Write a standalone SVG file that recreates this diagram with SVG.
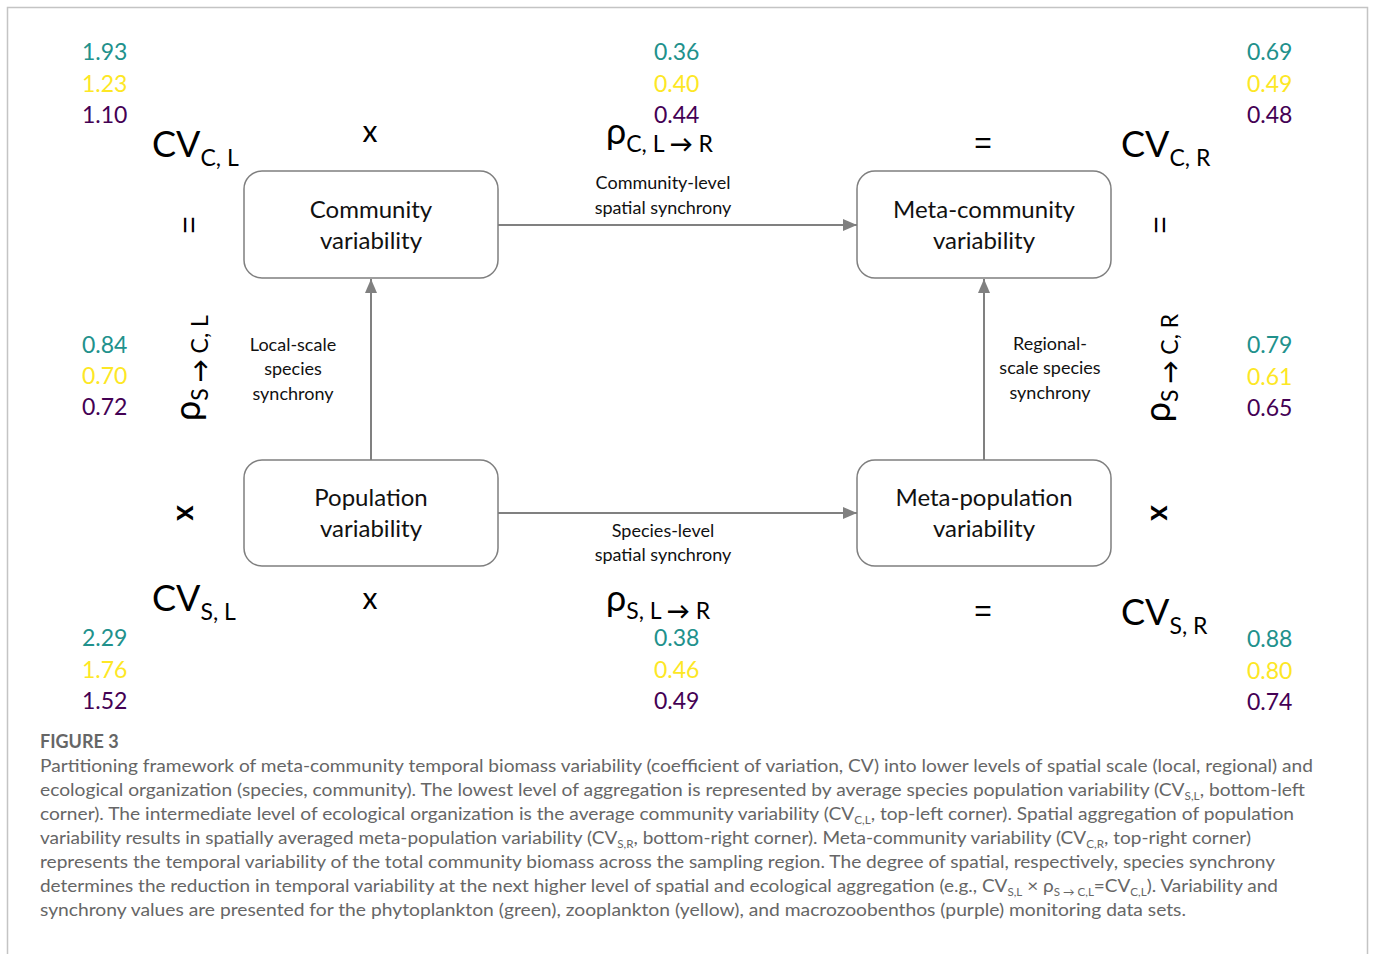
<svg xmlns="http://www.w3.org/2000/svg" width="1373" height="954" viewBox="0 0 1373 954">
<defs>
<marker id="ah" viewBox="0 0 14 12" refX="14" refY="6" markerWidth="14" markerHeight="12" markerUnits="userSpaceOnUse" orient="auto">
<path d="M0,0 L14,6 L0,12 Z" fill="#808080"/>
</marker>
<style>
.box{fill:#fff;stroke:#7f7f7f;stroke-width:1.5}
.bt{font-family:Lato,"Liberation Sans",sans-serif;font-size:24px;fill:#111;text-anchor:middle}
.lb{font-family:Lato,"Liberation Sans",sans-serif;font-size:18px;fill:#111;text-anchor:middle}
.num{font-family:Lato,"Liberation Sans",sans-serif;font-size:23px}
.g{fill:#21918c}.y{fill:#fde725}.p{fill:#440154}
.sym{font-family:Lato,"Liberation Sans",sans-serif;font-size:36px;fill:#000}
.sub{font-size:23px}
.arr{font-weight:bold}
.op{font-family:Lato,"Liberation Sans",sans-serif;font-size:30px;fill:#000;text-anchor:middle}
.eq{font-family:"Liberation Sans",sans-serif;font-size:30px;fill:#000;text-anchor:middle}
.conn{stroke:#808080;stroke-width:2;fill:none}
.cap{font-family:Lato,"Liberation Sans",sans-serif;font-size:18px;fill:#666}
.cs{font-size:11px}
</style>
</defs>
<rect x="0" y="0" width="1373" height="954" fill="#fff"/>
<path d="M7.5,954 V7.5 H1367.5 V954" fill="none" stroke="#c4c4c4" stroke-width="1.5"/>

<g id="connectors">
<line class="conn" x1="498" y1="225" x2="857" y2="225" marker-end="url(#ah)"/>
<line class="conn" x1="498" y1="513" x2="857" y2="513" marker-end="url(#ah)"/>
<line class="conn" x1="371" y1="460" x2="371" y2="279" marker-end="url(#ah)"/>
<line class="conn" x1="984" y1="460" x2="984" y2="279" marker-end="url(#ah)"/>
<text class="lb" x="663" y="189">Community-level</text>
<text class="lb" x="663" y="214">spatial synchrony</text>
<text class="lb" x="663" y="537">Species-level</text>
<text class="lb" x="663" y="561">spatial synchrony</text>
<text class="lb" x="293" y="351">Local-scale</text>
<text class="lb" x="293" y="375">species</text>
<text class="lb" x="293" y="400">synchrony</text>
<text class="lb" x="1050" y="350">Regional-</text>
<text class="lb" x="1050" y="374">scale species</text>
<text class="lb" x="1050" y="399">synchrony</text>
</g>

<g id="community">
<rect class="box" x="244" y="171" width="254" height="107" rx="18"/>
<text class="bt" x="371" y="218">Community</text>
<text class="bt" x="371" y="249">variability</text>
</g>
<g id="metacommunity">
<rect class="box" x="857" y="171" width="254" height="107" rx="18"/>
<text class="bt" x="984" y="218">Meta-community</text>
<text class="bt" x="984" y="249">variability</text>
</g>
<g id="population">
<rect class="box" x="244" y="460" width="254" height="106" rx="18"/>
<text class="bt" x="371" y="506">Population</text>
<text class="bt" x="371" y="537">variability</text>
</g>
<g id="metapopulation">
<rect class="box" x="857" y="460" width="254" height="106" rx="18"/>
<text class="bt" x="984" y="506">Meta-population</text>
<text class="bt" x="984" y="537">variability</text>
</g>

<g id="numbers">
<text class="num g" x="82" y="60">1.93</text>
<text class="num y" x="82" y="92">1.23</text>
<text class="num p" x="82" y="123">1.10</text>
<text class="num g" x="654" y="60">0.36</text>
<text class="num y" x="654" y="92">0.40</text>
<text class="num p" x="654" y="123">0.44</text>
<text class="num g" x="1247" y="60">0.69</text>
<text class="num y" x="1247" y="92">0.49</text>
<text class="num p" x="1247" y="123">0.48</text>
<text class="num g" x="82" y="353">0.84</text>
<text class="num y" x="82" y="384">0.70</text>
<text class="num p" x="82" y="415">0.72</text>
<text class="num g" x="1247" y="353">0.79</text>
<text class="num y" x="1247" y="385">0.61</text>
<text class="num p" x="1247" y="416">0.65</text>
<text class="num g" x="82" y="646">2.29</text>
<text class="num y" x="82" y="678">1.76</text>
<text class="num p" x="82" y="709">1.52</text>
<text class="num g" x="654" y="646">0.38</text>
<text class="num y" x="654" y="678">0.46</text>
<text class="num p" x="654" y="709">0.49</text>
<text class="num g" x="1247" y="647">0.88</text>
<text class="num y" x="1247" y="679">0.80</text>
<text class="num p" x="1247" y="710">0.74</text>
</g>

<g id="symbols">
<text class="sym" x="152" y="157">CV<tspan class="sub" dy="9">C, L</tspan></text>
<text class="sym" x="1121" y="157">CV<tspan class="sub" dy="9">C, R</tspan></text>
<text class="sym" x="152" y="611">CV<tspan class="sub" dy="9">S, L</tspan></text>
<text class="sym" x="1121" y="625">CV<tspan class="sub" dy="9">S, R</tspan></text>
<text class="sym" x="606" y="144" font-size="40">ρ<tspan class="sub" dy="8">C, L </tspan><tspan class="sub arr">→</tspan><tspan class="sub"> R</tspan></text>
<text class="sym" x="606" y="611" font-size="40">ρ<tspan class="sub" dy="8">S, L </tspan><tspan class="sub arr">→</tspan><tspan class="sub"> R</tspan></text>
<text class="sym" transform="translate(200,368) rotate(-90)" text-anchor="middle" font-size="36">ρ<tspan class="sub" dy="8">S </tspan><tspan class="sub arr">→</tspan><tspan class="sub"> C, L</tspan></text>
<text class="sym" transform="translate(1170,368) rotate(-90)" text-anchor="middle" font-size="36">ρ<tspan class="sub" dy="8">S </tspan><tspan class="sub arr">→</tspan><tspan class="sub"> C, R</tspan></text>
<text class="op" x="370" y="142">x</text>
<text class="op" x="370" y="609">x</text>
<text class="eq" x="983" y="153">=</text>
<text class="eq" x="983" y="621">=</text>
<text class="eq" transform="translate(189,225) rotate(90)" y="10">=</text>
<text class="eq" transform="translate(1160,225) rotate(90)" y="10">=</text>
<text class="op" transform="translate(187,513) rotate(90)" y="10" font-size="32" font-weight="bold">x</text>
<text class="op" transform="translate(1161,513) rotate(90)" y="10" font-size="32" font-weight="bold">x</text>
</g>

<g id="caption">
<text class="cap" x="40" y="748" font-size="14" fill="#777" font-weight="bold">FIGURE 3</text>
<text class="cap" x="40" y="772" textLength="1273" lengthAdjust="spacingAndGlyphs">Partitioning framework of meta-community temporal biomass variability (coefficient of variation, CV) into lower levels of spatial scale (local, regional) and</text>
<text class="cap" x="40" y="796" textLength="1265" lengthAdjust="spacingAndGlyphs">ecological organization (species, community). The lowest level of aggregation is represented by average species population variability (CV<tspan class="cs" dy="4">S,L</tspan><tspan dy="-4">, bottom-left</tspan></text>
<text class="cap" x="40" y="820" textLength="1254" lengthAdjust="spacingAndGlyphs">corner). The intermediate level of ecological organization is the average community variability (CV<tspan class="cs" dy="4">C,L</tspan><tspan dy="-4">, top-left corner). Spatial aggregation of population</tspan></text>
<text class="cap" x="40" y="844" textLength="1211" lengthAdjust="spacingAndGlyphs">variability results in spatially averaged meta-population variability (CV<tspan class="cs" dy="4">S,R</tspan><tspan dy="-4">, bottom-right corner). Meta-community variability (CV</tspan><tspan class="cs" dy="4">C,R</tspan><tspan dy="-4">, top-right corner)</tspan></text>
<text class="cap" x="40" y="868" textLength="1235" lengthAdjust="spacingAndGlyphs">represents the temporal variability of the total community biomass across the sampling region. The degree of spatial, respectively, species synchrony</text>
<text class="cap" x="40" y="892" textLength="1238" lengthAdjust="spacingAndGlyphs">determines the reduction in temporal variability at the next higher level of spatial and ecological aggregation (e.g., CV<tspan class="cs" dy="4">S,L</tspan><tspan dy="-4"> × ρ</tspan><tspan class="cs" dy="4">S → C,L</tspan><tspan dy="-4">=CV</tspan><tspan class="cs" dy="4">C,L</tspan><tspan dy="-4">). Variability and</tspan></text>
<text class="cap" x="40" y="916" textLength="1146" lengthAdjust="spacingAndGlyphs">synchrony values are presented for the phytoplankton (green), zooplankton (yellow), and macrozoobenthos (purple) monitoring data sets.</text>
</g>
</svg>
